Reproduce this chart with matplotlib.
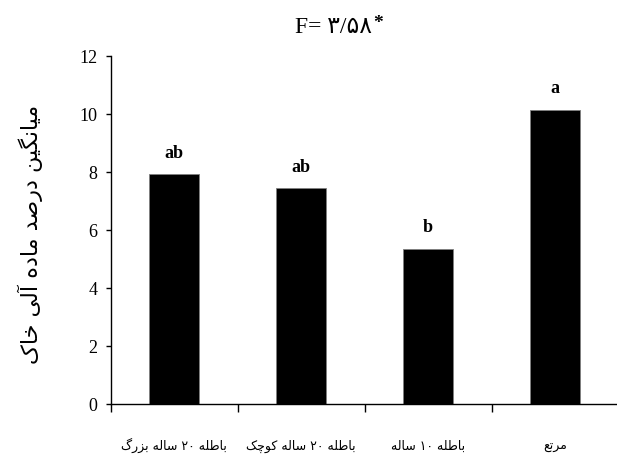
import matplotlib
matplotlib.use("Agg")
import matplotlib.pyplot as plt

# ------------------------------------
# Data
# ------------------------------------

groups = ["باطله ۲۰ ساله بزرگ", "باطله ۲۰ ساله کوچک", "باطله ۱۰ ساله", "مرتع"]
means = [7.93, 7.45, 5.36, 10.15]
letters = ["ab", "ab", "b", "a"]
y_label = "میانگین درصد ماده آلی خاک"
f_text = "F= ۳/۵۸"
y_ticks = [0, 2, 4, 6, 8, 10, 12]

# ------------------------------------
# Small Persian shaper (matplotlib has no text shaping)
# forms: isolated, final, initial, medial
# ------------------------------------

FORMS = {
    "ا": (0xFE8D, 0xFE8E), "آ": (0xFE81, 0xFE82),
    "د": (0xFEA9, 0xFEAA), "ر": (0xFEAD, 0xFEAE),
    "ز": (0xFEAF, 0xFEB0), "و": (0xFEED, 0xFEEE),
    "ب": (0xFE8F, 0xFE90, 0xFE91, 0xFE92),
    "ت": (0xFE95, 0xFE96, 0xFE97, 0xFE98),
    "خ": (0xFEA5, 0xFEA6, 0xFEA7, 0xFEA8),
    "س": (0xFEB1, 0xFEB2, 0xFEB3, 0xFEB4),
    "ص": (0xFEB9, 0xFEBA, 0xFEBB, 0xFEBC),
    "ط": (0xFEC1, 0xFEC2, 0xFEC3, 0xFEC4),
    "ع": (0xFEC9, 0xFECA, 0xFECB, 0xFECC),
    "ل": (0xFEDD, 0xFEDE, 0xFEDF, 0xFEE0),
    "م": (0xFEE1, 0xFEE2, 0xFEE3, 0xFEE4),
    "ن": (0xFEE5, 0xFEE6, 0xFEE7, 0xFEE8),
    "ه": (0xFEE9, 0xFEEA, 0xFEEB, 0xFEEC),
    "چ": (0xFB7A, 0xFB7B, 0xFB7C, 0xFB7D),
    "ک": (0xFB8E, 0xFB8F, 0xFB90, 0xFB91),
    "گ": (0xFB92, 0xFB93, 0xFB94, 0xFB95),
    "ی": (0xFBFC, 0xFBFD, 0xFBFE, 0xFBFF),
}

LTR_CHARS = set("0123456789۰۱۲۳۴۵۶۷۸۹/.")


def shape(text):
    out = []
    n = len(text)
    for i, c in enumerate(text):
        if c not in FORMS:
            out.append(c)
            continue
        forms = FORMS[c]
        prev = text[i - 1] if i > 0 else None
        nxt = text[i + 1] if i < n - 1 else None
        join_prev = prev in FORMS and len(FORMS[prev]) == 4
        join_next = nxt in FORMS and len(forms) == 4
        if join_prev and join_next:
            f = forms[3]
        elif join_prev:
            f = forms[1]
        elif join_next:
            f = forms[2]
        else:
            f = forms[0]
        out.append(chr(f))
    # split into runs, digits stay left to right
    runs = []
    for c in out:
        ltr = c in LTR_CHARS
        if runs and runs[-1][0] == ltr:
            runs[-1][1].append(c)
        else:
            runs.append([ltr, [c]])
    visual = ""
    for ltr, chars in reversed(runs):
        visual += "".join(chars) if ltr else "".join(reversed(chars))
    return visual


# ------------------------------------
# Figure
# ------------------------------------

fig = plt.figure(figsize=(6.17, 4.57), dpi=100)
ax = fig.add_axes([0.1794, 0.1153, 0.8233, 0.7621])

x = list(range(len(groups)))

ax.bar(x, means, width=0.39, color="black", edgecolor="#7f7f7f", linewidth=0.6)

for xi, m, lab in zip(x, means, letters):
    ax.annotate(
        lab,
        xy=(xi, m),
        xytext=(0, 9),
        textcoords="offset points",
        ha="center",
        va="bottom",
        fontsize=13,
        fontweight="bold",
        family="Liberation Serif"
    )

ax.set_xlim(-0.5, 3.5)
ax.set_ylim(0, 12)

ax.set_yticks(y_ticks)
ax.set_yticklabels([str(t) for t in y_ticks], family="Liberation Serif", fontsize=13)

ax.set_xticks(x)
ax.set_xticklabels([shape(g) for g in groups], family="DejaVu Sans", fontsize=9, va="baseline")
ax.set_xticks([-0.5, 0.5, 1.5, 2.5], minor=True)

ax.tick_params(axis="x", which="major", length=0, pad=33)
ax.tick_params(axis="x", which="minor", length=5.5, width=1, direction="out")
ax.tick_params(axis="y", length=3.5, width=1, direction="out", pad=6)

for side in ["top", "right"]:
    ax.spines[side].set_visible(False)
for side in ["left", "bottom"]:
    ax.spines[side].set_linewidth(1)

fig.text(
    30 / 617, 0.486,
    shape(y_label),
    rotation=90,
    ha="center",
    va="center",
    fontsize=16,
    family="DejaVu Sans"
)

title = fig.text(
    295 / 617, 1 - 32.7 / 457,
    f_text,
    ha="left",
    va="baseline",
    fontsize=17,
    family=["Liberation Serif", "DejaVu Sans"]
)

ax.annotate(
    "*",
    xy=(1, 1),
    xycoords=title,
    xytext=(0.5, 1),
    textcoords="offset points",
    ha="left",
    va="top",
    fontsize=14,
    fontweight="bold",
    family="Liberation Serif"
)

plt.savefig("out.png", dpi=100)
plt.close()
